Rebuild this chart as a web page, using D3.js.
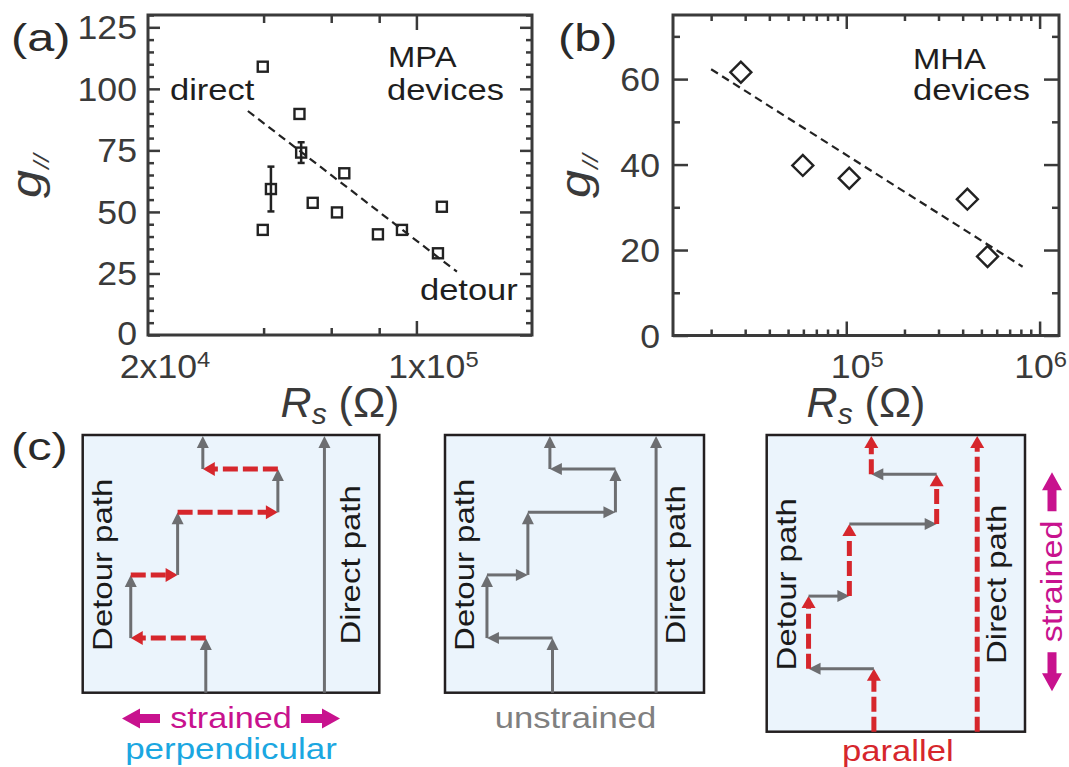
<!DOCTYPE html>
<html>
<head>
<meta charset="utf-8">
<script src="https://cdn.jsdelivr.net/npm/d3@7"></script>
<style>
  body { margin: 0; background: #fff; }
  svg { font-family: "Liberation Sans", Arial, sans-serif; }
</style>
</head>
<body>
<svg id="fig" width="1069" height="767"></svg>
<script>
  // (a) MPA devices
  var mpaRs = [3.98e4, 4.96e4, 5.01e4, 4.18e4, 6.49e4, 5.37e4, 6.21e4, 3.98e4, 7.94e4, 9.17e4, 1.165e5, 1.138e5];
  var mpaG = [109.0, 89.8, 74.1, 59.3, 65.7, 53.7, 49.8, 42.7, 40.9, 42.7, 52.1, 33.2];
  var mpaErr = [0, 0, 4.2, 9.1, 0, 0, 0, 0, 0, 0, 0, 0];
  var mpaFitRs = [3.64e4, 1.275e5];
  var mpaFitG = [91.0, 25.7];
  var mpaYTicks = [0, 25, 50, 75, 100, 125];
  var mpaXMinor = [4e4, 6e4, 8e4];
  var mpaXMajor = [1e5];
  var mpaXLabelVals = [2e4, 1e5];
  var mpaXLabelBase = ['2x10', '1x10'];
  var mpaXLabelExp = ['4', '5'];

  // (b) MHA devices
  var mhaRs = [2.85e4, 5.96e4, 1.036e5, 4.23e5, 5.38e5];
  var mhaG = [61.6, 39.8, 36.8, 31.9, 18.5];
  var mhaFitRs = [2.0e4, 8.17e5];
  var mhaFitG = [62.3, 16.1];
  var mhaYTicks = [0, 20, 40, 60];
  var mhaYMinor = [10, 30, 50, 70];
  var mhaXMajor = [1e5, 1e6];
  var mhaXLabelBase = ['10', '10'];
  var mhaXLabelExp = ['5', '6'];

  // (c) schematic path: turning points as fractions of each box
  var stepFx = [0.415, 0.415, 0.162, 0.162, 0.32, 0.32, 0.658, 0.658, 0.405, 0.405];
  var stepFy = [1, 0.788, 0.788, 0.543, 0.543, 0.3, 0.3, 0.132, 0.132, 0];
  var directFx = 0.815;

  var svg = d3.select('#fig');
  var ink = '#3a3a3a';
  var gray = '#6d6e71';
  var red = '#d6262c';
  var magenta = '#c8128e';

  function txt(parent, x, y, str, o) {
    o = o || {};
    var tr = 'translate(' + x + ',' + y + ')' + (o.rot ? ' rotate(' + o.rot + ')' : '') + ' scale(' + (o.sx || 1.15) + ',1)';
    return parent.append('text')
      .attr('transform', tr)
      .attr('text-anchor', o.anchor || 'start')
      .attr('font-size', o.fs || 30)
      .attr('fill', o.fill || '#1e1e1e')
      .text(str);
  }

  function ticks(axisFn, scale, vals, size, tx, ty) {
    svg.append('g')
      .attr('transform', 'translate(' + tx + ',' + ty + ')')
      .call(axisFn(scale).tickValues(vals).tickSize(size).tickFormat(''))
      .call(s => s.select('.domain').remove())
      .selectAll('line').attr('stroke', ink).attr('stroke-width', 2.5);
  }

  function frame(xs, ys) {
    var x0 = xs.range()[0], x1 = xs.range()[1], y0 = ys.range()[1], y1 = ys.range()[0];
    svg.append('rect')
      .attr('x', x0).attr('y', y0).attr('width', x1 - x0).attr('height', y1 - y0)
      .attr('fill', 'none').attr('stroke', ink).attr('stroke-width', 3);
  }

  function yLabel(x) {
    var t = svg.append('text').attr('transform', 'translate(' + x + ',198) rotate(-90) scale(1.2,1)')
      .attr('font-size', 42).attr('fill', ink);
    t.append('tspan').attr('font-style', 'italic').text('g');
    t.append('tspan').attr('font-style', 'italic').attr('font-size', 22).attr('dy', 8).attr('dx', 1).text('//');
  }

  function xLabel(cx) {
    var t = svg.append('text').attr('x', cx).attr('y', 417).attr('text-anchor', 'middle')
      .attr('font-size', 43).attr('fill', ink);
    t.append('tspan').attr('font-style', 'italic').text('R');
    t.append('tspan').attr('font-style', 'italic').attr('font-size', 30).attr('dy', 7).text('s');
    t.append('tspan').attr('dy', -7).text(' (Ω)');
  }

  function powLabel(x, base, exp, maxRight) {
    var t = svg.append('text').attr('text-anchor', 'middle').attr('font-size', 33).attr('fill', ink)
      .attr('transform', 'translate(' + x + ',378) scale(1.08,1)');
    t.append('tspan').text(base);
    t.append('tspan').attr('font-size', 22).attr('dy', -11).text(exp);
    var w = t.node().getComputedTextLength() * 1.08;
    if (maxRight && x + w / 2 > maxRight) {
      t.attr('transform', 'translate(' + (maxRight - w / 2) + ',378) scale(1.08,1)');
    }
  }

  // ---------------- panel (a) ----------------
  var xa = d3.scaleLog().domain([2e4, 2e5]).range([148, 532]);
  var ya = d3.scaleLinear().domain([0, 130]).range([335, 15]);
  var aMinorY = d3.range(0, 131, 5).filter(v => mpaYTicks.indexOf(v) < 0);

  ticks(d3.axisLeft, ya, mpaYTicks, -12, 148, 0);
  ticks(d3.axisLeft, ya, aMinorY, -6, 148, 0);
  ticks(d3.axisRight, ya, mpaYTicks, -12, 532, 0);
  ticks(d3.axisRight, ya, aMinorY, -6, 532, 0);
  ticks(d3.axisBottom, xa, mpaXMinor, -7, 0, 335);
  ticks(d3.axisBottom, xa, mpaXMajor, -14, 0, 335);
  ticks(d3.axisTop, xa, mpaXMinor, -8, 0, 15);
  ticks(d3.axisTop, xa, mpaXMajor, -15, 0, 15);
  frame(xa, ya);

  mpaYTicks.forEach(v => txt(svg, 137, ya(v) + (v === 0 ? 10 : 12), String(v), { anchor: 'end', fs: 33, sx: 1.08, fill: ink }));
  mpaXLabelVals.forEach((v, i) => powLabel(xa(v) + 17, mpaXLabelBase[i], mpaXLabelExp[i]));

  svg.append('line')
    .attr('x1', xa(mpaFitRs[0])).attr('y1', ya(mpaFitG[0]))
    .attr('x2', xa(mpaFitRs[1])).attr('y2', ya(mpaFitG[1]))
    .attr('stroke', '#222').attr('stroke-width', 2.2).attr('stroke-dasharray', '8 5');

  mpaRs.forEach((r, i) => {
    if (mpaErr[i] > 0) {
      var cx = xa(r), top = ya(mpaG[i] + mpaErr[i]), bot = ya(mpaG[i] - mpaErr[i]);
      svg.append('line').attr('x1', cx).attr('x2', cx).attr('y1', top).attr('y2', bot)
        .attr('stroke', '#222').attr('stroke-width', 2.5);
      [top, bot].forEach(yy => svg.append('line').attr('x1', cx - 3.5).attr('x2', cx + 3.5)
        .attr('y1', yy).attr('y2', yy).attr('stroke', '#222').attr('stroke-width', 2.5));
    }
  });
  svg.selectAll('rect.pt').data(mpaRs).enter().append('rect').attr('class', 'pt')
    .attr('x', d => xa(d) - 5).attr('y', (d, i) => ya(mpaG[i]) - 5)
    .attr('width', 10).attr('height', 10)
    .attr('fill', 'none').attr('stroke', '#222').attr('stroke-width', 2.4);

  txt(svg, 170, 100, 'direct', { sx: 1.15, fs: 30 });
  txt(svg, 388, 67, 'MPA', { sx: 1.13, fs: 29 });
  txt(svg, 387, 100, 'devices', { sx: 1.15, fs: 30 });
  txt(svg, 420, 300, 'detour', { sx: 1.15, fs: 30 });

  yLabel(41);
  xLabel(340);
  txt(svg, 11, 51, '(a)', { fs: 38, sx: 1.28, fill: '#2a2a2a' });

  // ---------------- panel (b) ----------------
  var xb = d3.scaleLog().domain([1.27e4, 1.26e6]).range([673, 1059]);
  var yb = d3.scaleLinear().domain([0, 75]).range([335.5, 15]);
  var bMinorX = [];
  [1e4, 1e5].forEach(dec => d3.range(2, 10).forEach(k => {
    var v = dec * k;
    if (v > xb.domain()[0] && v < xb.domain()[1]) bMinorX.push(v);
  }));

  ticks(d3.axisLeft, yb, mhaYTicks, -15, 673, 0);
  ticks(d3.axisLeft, yb, mhaYMinor, -7, 673, 0);
  ticks(d3.axisRight, yb, mhaYTicks, -15, 1059, 0);
  ticks(d3.axisRight, yb, mhaYMinor, -7, 1059, 0);
  ticks(d3.axisBottom, xb, bMinorX, -6, 0, 335.5);
  ticks(d3.axisBottom, xb, mhaXMajor, -14, 0, 335.5);
  ticks(d3.axisTop, xb, bMinorX, -6, 0, 15);
  ticks(d3.axisTop, xb, mhaXMajor, -14, 0, 15);
  frame(xb, yb);

  mhaYTicks.forEach(v => txt(svg, 660, yb(v) + 12, String(v), { anchor: 'end', fs: 33, sx: 1.08, fill: ink }));
  mhaXMajor.forEach((v, i) => powLabel(xb(v) + 11, mhaXLabelBase[i], mhaXLabelExp[i], 1067));

  svg.append('line')
    .attr('x1', xb(mhaFitRs[0])).attr('y1', yb(mhaFitG[0]))
    .attr('x2', xb(mhaFitRs[1])).attr('y2', yb(mhaFitG[1]))
    .attr('stroke', '#222').attr('stroke-width', 2.2).attr('stroke-dasharray', '8 5');

  var dia = d3.symbol().type(d3.symbolSquare).size(220);
  svg.selectAll('path.dia').data(mhaRs).enter().append('path').attr('class', 'dia')
    .attr('d', dia)
    .attr('transform', (d, i) => 'translate(' + xb(d) + ',' + yb(mhaG[i]) + ') rotate(45)')
    .attr('fill', 'none').attr('stroke', '#222').attr('stroke-width', 2.4);

  txt(svg, 913, 69, 'MHA', { sx: 1.13, fs: 29 });
  txt(svg, 913, 100, 'devices', { sx: 1.15, fs: 30 });

  yLabel(590);
  xLabel(866);
  txt(svg, 558, 51, '(b)', { fs: 38, sx: 1.28, fill: '#2a2a2a' });

  // ---------------- panel (c) ----------------
  txt(svg, 11, 460, '(c)', { fs: 38, sx: 1.28, fill: '#2a2a2a' });

  function arrow(g, x1, y1, x2, y2, color, w, dashed) {
    var len = Math.hypot(x2 - x1, y2 - y1), ux = (x2 - x1) / len, uy = (y2 - y1) / len;
    var hl = 12, hw = dashed ? 7 : 6;
    var bx = x2 - ux * hl, by = y2 - uy * hl;
    var ln = g.append('line').attr('x1', x1).attr('y1', y1).attr('x2', bx + ux).attr('y2', by + uy)
      .attr('stroke', color).attr('stroke-width', w);
    if (dashed) ln.attr('stroke-dasharray', '15 5');
    g.append('path')
      .attr('d', 'M' + x2 + ',' + y2 + 'L' + (bx - uy * hw) + ',' + (by + ux * hw) + 'L' + (bx + uy * hw) + ',' + (by - ux * hw) + 'Z')
      .attr('fill', color);
  }

  function blockArrow(g, x1, y1, x2, y2, color) {
    var len = Math.hypot(x2 - x1, y2 - y1), ux = (x2 - x1) / len, uy = (y2 - y1) / len;
    var hl = 18, hw = 10, sw = 4.5;
    var bx = x2 - ux * hl, by = y2 - uy * hl;
    var px = -uy, py = ux;
    var pts = [
      [x1 + px * sw, y1 + py * sw], [bx + px * sw, by + py * sw], [bx + px * hw, by + py * hw],
      [x2, y2], [bx - px * hw, by - py * hw], [bx - px * sw, by - py * sw], [x1 - px * sw, y1 - py * sw]
    ];
    g.append('path').attr('d', 'M' + pts.map(p => p.join(',')).join('L') + 'Z').attr('fill', color);
  }

  var boxes = [
    { x0: 82.7, x1: 379.3, y0: 435, y1: 692.7, v: 'gray', h: 'red', direct: 'gray', tx: 112 },
    { x0: 445, x1: 704, y0: 435, y1: 692.7, v: 'gray', h: 'gray', direct: 'gray', tx: 474 },
    { x0: 766.7, x1: 1025, y0: 435, y1: 731.7, v: 'red', h: 'gray', direct: 'red', tx: 796 }
  ];

  boxes.forEach((b, bi) => {
    var g = svg.append('g');
    var sx = d3.scaleLinear().domain([0, 1]).range([b.x0, b.x1]);
    var sy = d3.scaleLinear().domain([0, 1]).range([b.y0, b.y1]);
    g.append('rect').attr('x', b.x0).attr('y', b.y0).attr('width', b.x1 - b.x0).attr('height', b.y1 - b.y0)
      .attr('fill', '#ebf4fc').attr('stroke', '#231f20').attr('stroke-width', 2.5);

    var style = k => k === 'red' ? [red, 5, true] : [gray, 3, false];
    var ds = style(b.direct);
    arrow(g, sx(directFx), sy(1), sx(directFx), sy(0) + 1, ds[0], ds[1], ds[2]);
    for (var i = 0; i < stepFx.length - 1; i++) {
      var vertical = stepFx[i] === stepFx[i + 1];
      var st = style(vertical ? b.v : b.h);
      arrow(g, sx(stepFx[i]), sy(stepFy[i]), sx(stepFx[i + 1]), sy(stepFy[i + 1]) + (i === stepFx.length - 2 ? 1 : 0), st[0], st[1], st[2]);
    }

    var cy = (b.y0 + b.y1) / 2;
    txt(g, b.tx, cy + 1, 'Detour path', { rot: -90, anchor: 'middle', fs: 27, sx: 1.22, fill: '#1a1a1a' });
    txt(g, b.x1 - 19, cy + 1, 'Direct path', { rot: -90, anchor: 'middle', fs: 27, sx: 1.22, fill: '#1a1a1a' });
  });

  // captions
  var c1 = (boxes[0].x0 + boxes[0].x1) / 2;
  txt(svg, c1, 728, 'strained', { anchor: 'middle', fs: 30, sx: 1.14, fill: magenta });
  blockArrow(svg, c1 - 71, 718.5, c1 - 109, 718.5, magenta);
  blockArrow(svg, c1 + 70, 718.5, c1 + 109, 718.5, magenta);
  txt(svg, c1, 759, 'perpendicular', { anchor: 'middle', fs: 30, sx: 1.165, fill: '#1ba7e1' });

  var c2 = (boxes[1].x0 + boxes[1].x1) / 2;
  txt(svg, c2 + 1, 728, 'unstrained', { anchor: 'middle', fs: 30, sx: 1.155, fill: '#808080' });

  var c3 = (boxes[2].x0 + boxes[2].x1) / 2;
  txt(svg, c3 + 2, 761, 'parallel', { anchor: 'middle', fs: 30, sx: 1.155, fill: red });
  var cy3 = (boxes[2].y0 + boxes[2].y1) / 2 - 2;
  txt(svg, 1062, cy3, 'strained', { rot: -90, anchor: 'middle', fs: 30, sx: 1.14, fill: magenta });
  blockArrow(svg, 1052, cy3 - 70, 1052, cy3 - 109, magenta);
  blockArrow(svg, 1052, cy3 + 71, 1052, cy3 + 110, magenta);
</script>
</body>
</html>
